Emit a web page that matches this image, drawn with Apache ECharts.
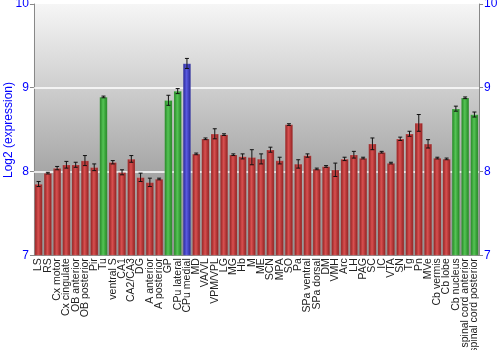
<!DOCTYPE html>
<html><head><meta charset="utf-8">
<script src="https://cdn.jsdelivr.net/npm/echarts@6/dist/echarts.min.js"></script>
<style>html,body{margin:0;padding:0;background:#fff}#c{width:500px;height:350px}</style>
</head><body><div id="c"></div>
<script>
const categories = ["LS","RS","Cx motor","Cx cingulate","OB anterior","OB posterior","Pir","Tu","ventral S","CA1","CA2/CA3","DG","A anterior","A posterior","GP","CPu lateral","CPu medial","MD","VA/VL","VPM/VPL","LG","MG","Hb","M","ME","SCN","MPA","SO","Pa","SPa ventral","SPa dorsal","DM","VMH","Arc","LH","PAG","SC","IC","VTA","SN","Tg","Pn","MVe","Cb vermis","Cb lobe","Cb nucleus","spinal cord anterior","spinal cord posterior"];
const values = [7.85,7.98,8.04,8.08,8.08,8.13,8.05,8.89,8.11,7.99,8.15,7.93,7.87,7.91,8.85,8.96,9.29,8.21,8.39,8.45,8.44,8.2,8.18,8.17,8.15,8.26,8.13,8.56,8.09,8.19,8.03,8.06,8.02,8.15,8.2,8.16,8.33,8.23,8.1,8.39,8.45,8.58,8.33,8.16,8.15,8.75,8.88,8.68];
const errors = [0.03,0.01,0.02,0.04,0.03,0.06,0.04,0.01,0.02,0.03,0.04,0.05,0.05,0.01,0.06,0.03,0.06,0.01,0.01,0.06,0.01,0.01,0.03,0.09,0.06,0.03,0.04,0.01,0.05,0.02,0.01,0.01,0.08,0.02,0.04,0.01,0.07,0.01,0.01,0.02,0.03,0.1,0.05,0.01,0.01,0.03,0.01,0.03];
const groups = ["r","r","r","r","r","r","r","g","r","r","r","r","r","r","g","g","b","r","r","r","r","r","r","r","r","r","r","r","r","r","r","r","r","r","r","r","r","r","r","r","r","r","r","r","r","g","g","g"];
const yTicks = [7,8,9,10];
const yTitle = "Log2 (expression)";

const palette = {
  r: ['#8a1c1c','#d85050','#8a1c1c'],
  g: ['#1f7f1f','#55c455','#1f7f1f'],
  b: ['#24248f','#5a5ae0','#24248f']
};
function grad(k){
  const p = palette[k];
  return {type:'linear',x:0,y:0,x2:1,y2:0,colorStops:[{offset:0,color:p[0]},{offset:0.45,color:p[1]},{offset:1,color:p[2]}]};
}
const barData = values.map((v,i)=>({value:v,itemStyle:{color:grad(groups[i])}}));
const errData = values.map((v,i)=>[i, v-errors[i], v+errors[i]]);

const chart = echarts.init(document.getElementById('c'));
function yAxisCfg(pos){
  return {
    type:'value', position:pos, min:yTicks[0], max:yTicks[yTicks.length-1], interval:1,
    axisLine:{show:true,onZero:false,lineStyle:{color:'#888'}},
    axisTick:{show:true,length:4,lineStyle:{color:'#888'}},
    axisLabel:{show:true,color:'#0000ff',fontSize:12,fontFamily:'Liberation Sans, Arial',hideOverlap:false,margin:5},
    splitLine:{show:false}
  };
}
chart.setOption({
  animation:false,
  grid:{left:15.6,right:2.6,top:4,bottom:2.5,containLabel:true,show:true,borderWidth:0,
    backgroundColor:{type:'linear',x:0,y:0,x2:0,y2:1,colorStops:[{offset:0,color:'#f6f6f6'},{offset:0.67,color:'#a6a6a6'},{offset:1,color:'#8f8f8f'}]}},
  graphic:[{type:'text',x:9,y:130,rotation:Math.PI/2,
    style:{text:yTitle,fill:'#0000ff',font:'12px "Liberation Sans", Arial',align:'center',verticalAlign:'middle'}}],
  xAxis:{type:'category',data:categories,
    axisLine:{show:true,onZero:false,lineStyle:{color:'#888'}},
    axisTick:{show:false},
    axisLabel:{rotate:90,interval:0,color:'#222',fontSize:10.5,fontFamily:'Liberation Sans, Arial',margin:3,hideOverlap:false}},
  yAxis:[yAxisCfg('left'), yAxisCfg('right')],
  series:[
    {type:'bar',data:barData,barWidth:'86%',itemStyle:{borderColor:'rgba(255,255,255,0.25)',borderWidth:0.5},
      markLine:{silent:true,symbol:'none',label:{show:false},z:1,
        lineStyle:{color:'#ffffff',width:1.5,type:'solid'},
        data:yTicks.slice(1,-1).map(v=>({yAxis:v}))}},
    {type:'custom',data:errData,z:10,
      renderItem:function(params,api){
        const x = api.value(0);
        const lo = api.coord([x,api.value(1)]);
        const hi = api.coord([x,api.value(2)]);
        const cx = lo[0], h=2;
        const st = {stroke:'#111',lineWidth:1};
        return {type:'group',children:[
          {type:'line',shape:{x1:cx,y1:lo[1],x2:cx,y2:hi[1]},style:st},
          {type:'line',shape:{x1:cx-h,y1:lo[1],x2:cx+h,y2:lo[1]},style:st},
          {type:'line',shape:{x1:cx-h,y1:hi[1],x2:cx+h,y2:hi[1]},style:st}
        ]};
      }}
  ]
});
</script></body></html>
